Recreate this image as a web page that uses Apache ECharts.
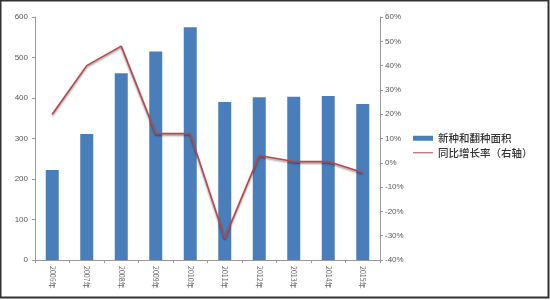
<!DOCTYPE html>
<html><head><meta charset="utf-8">
<script src="https://cdn.jsdelivr.net/npm/echarts@6/dist/echarts.min.js"></script>
<style>html,body{margin:0;padding:0;background:#fff}#c{width:550px;height:300px}</style>
</head><body><div id="c"></div>
<script>
var categories = ['2006年','2007年','2008年','2009年','2010年','2011年','2012年','2013年','2014年','2015年'];
var areaValues = [222, 311, 461, 515, 575, 390, 402, 403, 405, 385];
var growthValues = [20, 40, 48, 12, 12, -31, 3, 0.5, 0.5, -4];
var leftTicks = {min: 0, max: 600, interval: 100};
var rightTicks = {min: -40, max: 60, interval: 10};
var seriesNames = ['新种和翻种面积', '同比增长率（右轴）'];

var chart = echarts.init(document.getElementById('c'));
var axisLabelStyle = {color: '#555', fontSize: 8, fontFamily: 'Liberation Sans'};
chart.setOption({
  animation: false,
  backgroundColor: '#fff',
  graphic: [
    {type: 'rect', shape: {x: 0.5, y: 0.5, width: 548, height: 297}, style: {fill: 'none', stroke: '#333', lineWidth: 2}, silent: true}
  ],
  grid: {left: 35, right: 170, top: 17, bottom: 40},
  legend: {
    orient: 'vertical', left: 408, top: 128, itemWidth: 20, itemHeight: 5, itemGap: 4,
    textStyle: {fontSize: 10.5, color: '#333', fontFamily: 'Noto Sans CJK SC', fontWeight: 500},
    data: [{name: seriesNames[0], icon: 'rect'}, {name: seriesNames[1], icon: 'path://M0,0L40,0L40,2.5L0,2.5Z'}]
  },
  xAxis: {
    type: 'category', data: categories,
    axisLine: {lineStyle: {color: '#999'}},
    axisTick: {show: true, alignWithLabel: false, length: 3, lineStyle: {color: '#999'}},
    axisLabel: {rotate: -90, fontSize: 7, color: '#666', margin: 6, fontFamily: 'Noto Sans CJK SC'}
  },
  yAxis: [
    {type: 'value', min: leftTicks.min, max: leftTicks.max, interval: leftTicks.interval,
     axisLine: {show: true, lineStyle: {color: '#999'}},
     axisTick: {show: true, length: 3, lineStyle: {color: '#999'}},
     splitLine: {show: false},
     axisLabel: Object.assign({margin: 7}, axisLabelStyle)},
    {type: 'value', min: rightTicks.min, max: rightTicks.max, interval: rightTicks.interval,
     position: 'right',
     axisLine: {show: true, lineStyle: {color: '#999'}},
     axisTick: {show: true, length: 3, lineStyle: {color: '#999'}},
     splitLine: {show: false},
     axisLabel: Object.assign({margin: 5, formatter: function(v){return v + '%';}}, axisLabelStyle)}
  ],
  series: [
    {name: seriesNames[0], type: 'bar', data: areaValues, barWidth: 13, yAxisIndex: 0,
     itemStyle: {color: '#4a7ebb'}},
    {name: seriesNames[1], type: 'line', data: growthValues, yAxisIndex: 1, symbol: 'none',
     lineStyle: {color: '#b8474a', width: 1.6, shadowColor: 'rgba(0,0,0,0.45)', shadowBlur: 2, shadowOffsetY: 1.5},
     itemStyle: {color: '#c0686a'}}
  ]
});
</script></body></html>
